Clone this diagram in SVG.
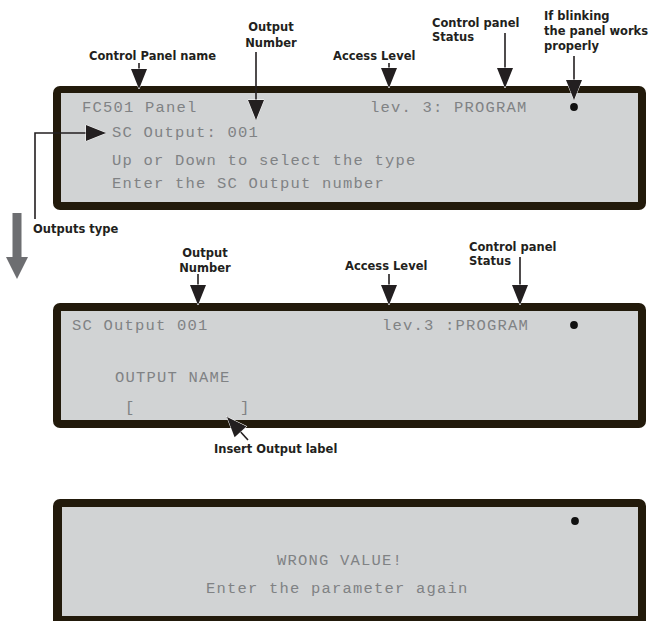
<svg xmlns="http://www.w3.org/2000/svg" width="649" height="621" viewBox="0 0 649 621">
<defs>
<style>
.frame{fill:#221a0b}
.screen{fill:#d1d3d4}
.lcd{font-family:"Liberation Mono","DejaVu Sans Mono",monospace;font-size:15.5px;letter-spacing:1.2px;fill:#808284}
.lbl{font-family:"DejaVu Sans","Liberation Sans",sans-serif;font-weight:bold;font-size:11.5px;fill:#231f20}
.dot{fill:#111}
.conn{fill:none;stroke:#231f20;stroke-width:1.6}
.big{fill:#6d6e71}
</style>
<marker id="ah" markerUnits="userSpaceOnUse" markerWidth="23" markerHeight="19" viewBox="-1 -1 23 19" refX="20" refY="8.5" orient="auto">
<path d="M0,0.5 L20,8.5 L0,16.5 Z" fill="#231f20" stroke="#ffffff" stroke-width="1" paint-order="stroke"/>
</marker>
</defs>
<rect width="649" height="621" fill="#ffffff"/>

<g id="panel1">
<rect class="frame" x="53" y="86" width="593" height="124" rx="7"/>
<rect class="screen" x="61" y="93" width="577" height="109"/>
<text class="lcd" x="82" y="112">FC501 Panel</text>
<text class="lcd" x="370" y="112">lev. 3: PROGRAM</text>
<text class="lcd" x="112" y="137">SC Output: 001</text>
<text class="lcd" x="112" y="165">Up or Down to select the type</text>
<text class="lcd" x="112" y="188">Enter the SC Output number</text>
<circle class="dot" cx="574" cy="107" r="3.9"/>
</g>

<g id="panel2">
<rect class="frame" x="53" y="303" width="593" height="125" rx="7"/>
<rect class="screen" x="61" y="311" width="577" height="109"/>
<text class="lcd" x="72" y="330">SC Output 001</text>
<text class="lcd" x="382" y="330">lev.3 :PROGRAM</text>
<text class="lcd" x="115" y="382">OUTPUT NAME</text>
<text class="lcd" x="125" y="412">[</text>
<text class="lcd" x="240" y="412">]</text>
<circle class="dot" cx="574" cy="325" r="3.9"/>
</g>

<g id="panel3">
<rect class="frame" x="53" y="499" width="593" height="130" rx="7"/>
<rect class="screen" x="62" y="507" width="576" height="109"/>
<text class="lcd" x="277" y="565">WRONG VALUE!</text>
<text class="lcd" x="206" y="593">Enter the parameter again</text>
<circle class="dot" cx="575" cy="521" r="3.9"/>
</g>

<g id="label-panel-name"><text class="lbl" x="89" y="60">Control Panel name</text></g>
<g id="label-output-number-1"><text class="lbl" x="271" y="31" text-anchor="middle">Output</text><text class="lbl" x="271" y="46.5" text-anchor="middle">Number</text></g>
<g id="label-access-level-1"><text class="lbl" x="333" y="60">Access Level</text></g>
<g id="label-status-1"><text class="lbl" x="432" y="27">Control panel</text><text class="lbl" x="432" y="41">Status</text></g>
<g id="label-blinking"><text class="lbl" x="544" y="20">If blinking</text><text class="lbl" x="544" y="35">the panel works</text><text class="lbl" x="544" y="50">properly</text></g>
<g id="label-outputs-type"><text class="lbl" x="33" y="233">Outputs type</text></g>
<g id="label-output-number-2"><text class="lbl" x="205" y="257" text-anchor="middle">Output</text><text class="lbl" x="205" y="272" text-anchor="middle">Number</text></g>
<g id="label-access-level-2"><text class="lbl" x="345" y="270">Access Level</text></g>
<g id="label-status-2"><text class="lbl" x="469" y="251">Control panel</text><text class="lbl" x="469" y="265">Status</text></g>
<g id="label-insert"><text class="lbl" x="214" y="453">Insert Output label</text></g>

<g id="connectors">
<line class="conn" x1="139" y1="63" x2="139" y2="89" marker-end="url(#ah)"/>
<line class="conn" x1="256" y1="52" x2="256" y2="120" marker-end="url(#ah)"/>
<line class="conn" x1="389" y1="63" x2="389" y2="88" marker-end="url(#ah)"/>
<line class="conn" x1="505" y1="33" x2="505" y2="88" marker-end="url(#ah)"/>
<line class="conn" x1="574" y1="56" x2="574" y2="100" marker-end="url(#ah)"/>
<path class="conn" d="M35,219 V133 H106" marker-end="url(#ah)"/>
<line class="conn" x1="198" y1="274" x2="198" y2="305" marker-end="url(#ah)"/>
<line class="conn" x1="389" y1="274" x2="389" y2="305" marker-end="url(#ah)"/>
<line class="conn" x1="520" y1="257" x2="520" y2="305" marker-end="url(#ah)"/>
<line class="conn" x1="248" y1="440" x2="227" y2="417" marker-end="url(#ah)"/>
<polygon class="big" points="12.5,213 21.5,213 21.5,257 28,257 17,279 6,257 12.5,257"/>
</g>
</svg>
